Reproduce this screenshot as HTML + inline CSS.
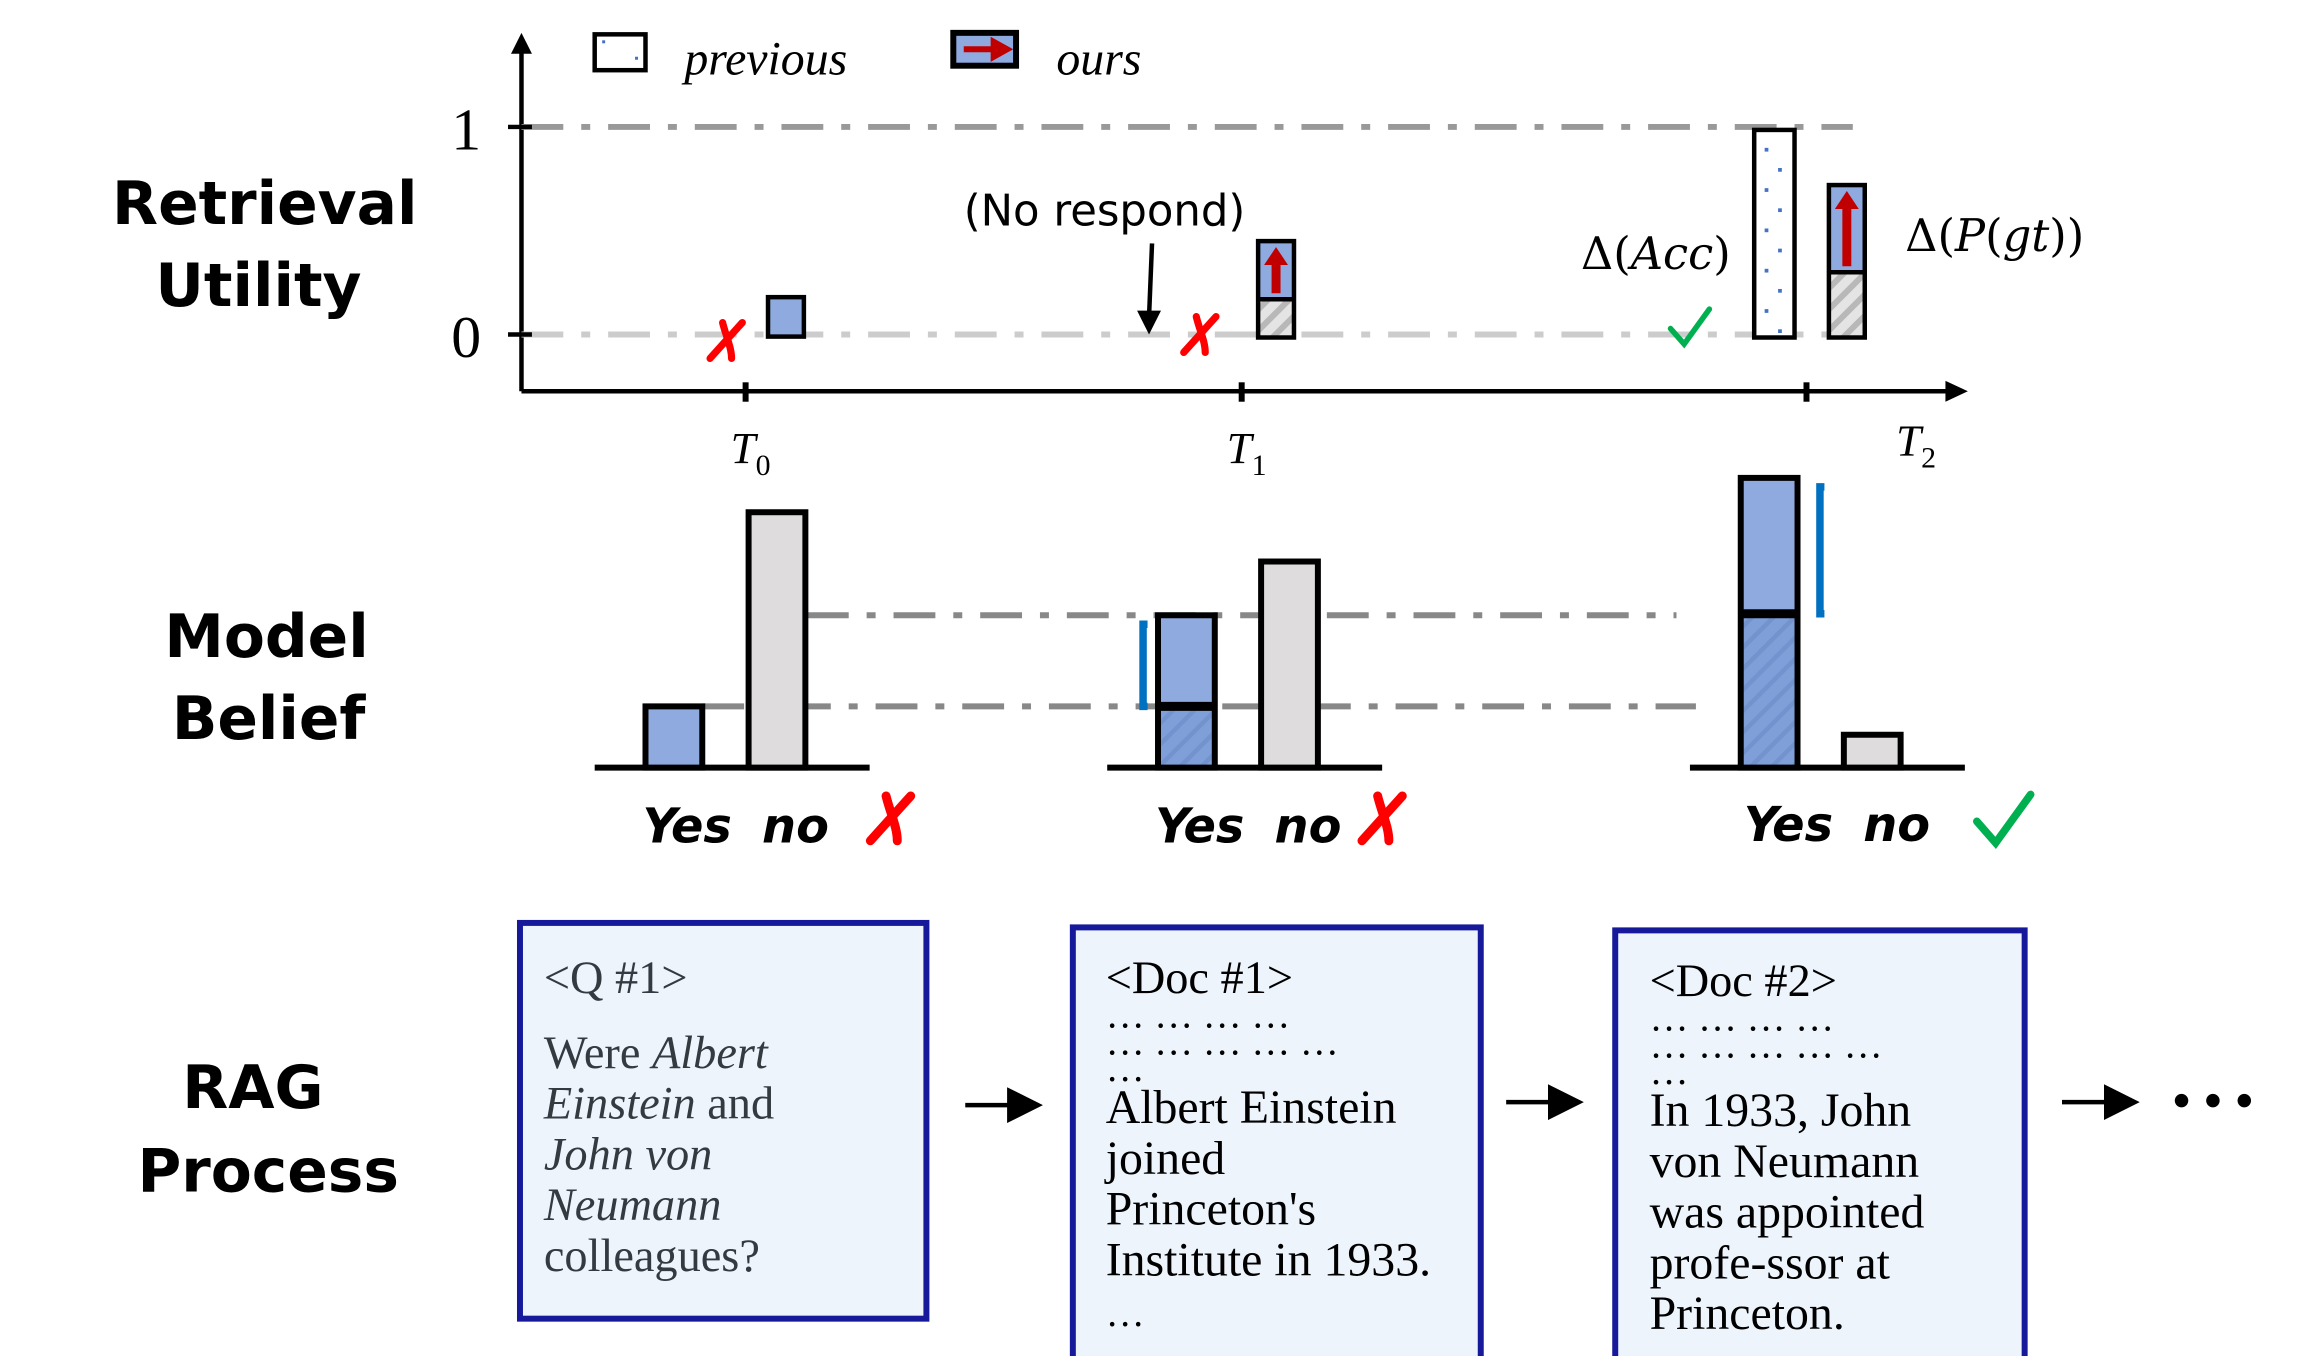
<!DOCTYPE html>
<html><head><meta charset="utf-8"><style>
html,body{margin:0;padding:0;background:#fff;}
svg{display:block;}
.hand{font-family:"DejaVu Sans",sans-serif;font-weight:bold;fill:#000;}
.ser{font-family:"Liberation Serif",serif;}
</style></head><body>
<svg id="fig" width="2319" height="1356" viewBox="0 0 1552 908" preserveAspectRatio="none" xmlns="http://www.w3.org/2000/svg">
<defs>
<pattern id="hatch" width="10" height="10" patternUnits="userSpaceOnUse" patternTransform="rotate(45)">
<rect width="10" height="10" fill="#e4e4e4"/><rect width="4" height="10" fill="#b8b8b8"/></pattern>
<pattern id="bhatch" width="10" height="10" patternUnits="userSpaceOnUse" patternTransform="rotate(45)">
<rect width="10" height="10" fill="#7f9fd8"/><rect width="3" height="10" fill="#7393cf"/></pattern>
<marker id="ah" markerWidth="8" markerHeight="8" refX="4" refY="4" orient="auto"><path d="M0,0 L8,4 L0,8 z" fill="#000"/></marker>
</defs>

<text class="hand" x="75" y="150" font-size="40">Retrieval</text>
<text class="hand" x="104" y="205" font-size="40">Utility</text>
<text class="hand" x="110" y="440" font-size="40">Model</text>
<text class="hand" x="115" y="495" font-size="40">Belief</text>
<text class="hand" x="122" y="742" font-size="40">RAG</text>
<text class="hand" x="92" y="798" font-size="40">Process</text>

<g>
<rect x="398" y="23" width="34" height="24" fill="#fff" stroke="#000" stroke-width="3"/>
<rect x="403" y="27" width="2" height="2" fill="#4472c4"/><rect x="425" y="38" width="2" height="2" fill="#4472c4"/>
<text class="ser" x="458" y="50" font-size="32" font-style="italic">previous</text>
<rect x="638" y="22" width="42" height="22" fill="#8eaadf" stroke="#000" stroke-width="4"/>
<path d="M645,33 h20 v-5 l9,5 l-9,5 v-5" fill="#c00000" stroke="#c00000" stroke-width="4"/>
<text class="ser" x="707" y="50" font-size="32" font-style="italic">ours</text>
</g>

<g id="topChart"></g>
<g id="midChart"></g>

<g>
<rect x="348" y="618" width="272" height="265" fill="#edf4fb" stroke="#15199a" stroke-width="4"/>
<text class="ser" font-size="31" fill="#333a40" x="364" y="665">&lt;Q #1&gt;</text>
<text class="ser" font-size="31" fill="#333a40" x="364" y="715">Were <tspan font-style="italic">Albert</tspan></text>
<text class="ser" font-size="31" fill="#333a40" x="364" y="749"><tspan font-style="italic">Einstein</tspan> and</text>
<text class="ser" font-size="31" fill="#333a40" x="364" y="783" font-style="italic">John von</text>
<text class="ser" font-size="31" fill="#333a40" x="364" y="817" font-style="italic">Neumann</text>
<text class="ser" font-size="31" fill="#333a40" x="364" y="851">colleagues?</text>
</g>
<g>
<rect x="718" y="621" width="273" height="289" fill="#edf4fb" stroke="#15199a" stroke-width="4"/>
<text class="ser" font-size="31" x="740" y="665">&lt;Doc #1&gt;</text>
<text class="ser" font-size="26" x="740" y="688">… … … …</text>
<text class="ser" font-size="26" x="740" y="706">… … … … …</text>
<text class="ser" font-size="26" x="740" y="724">…</text>
<text class="ser" font-size="32" x="740" y="752">Albert Einstein</text>
<text class="ser" font-size="32" x="740" y="786">joined</text>
<text class="ser" font-size="32" x="740" y="820">Princeton's</text>
<text class="ser" font-size="32" x="740" y="854">Institute in 1933.</text>
<text class="ser" font-size="26" x="740" y="888">…</text>
</g>
<g>
<rect x="1081" y="623" width="274" height="289" fill="#edf4fb" stroke="#15199a" stroke-width="4"/>
<text class="ser" font-size="31" x="1104" y="667">&lt;Doc #2&gt;</text>
<text class="ser" font-size="26" x="1104" y="690">… … … …</text>
<text class="ser" font-size="26" x="1104" y="708">… … … … …</text>
<text class="ser" font-size="26" x="1104" y="726">…</text>
<text class="ser" font-size="32" x="1104" y="754">In 1933, John</text>
<text class="ser" font-size="32" x="1104" y="788">von Neumann</text>
<text class="ser" font-size="32" x="1104" y="822">was appointed</text>
<text class="ser" font-size="32" x="1104" y="856">profe-ssor at</text>
<text class="ser" font-size="32" x="1104" y="890">Princeton.</text>
</g>
<g stroke="#000" stroke-width="3">
<line x1="646" y1="740" x2="686" y2="740" marker-end="url(#ah)"/>
<line x1="1008" y1="738" x2="1048" y2="738" marker-end="url(#ah)"/>
<line x1="1380" y1="738" x2="1420" y2="738" marker-end="url(#ah)"/>
</g>
<g fill="#000">
<circle cx="1460" cy="737" r="4.5"/><circle cx="1481" cy="737" r="4.5"/><circle cx="1502" cy="737" r="4.5"/>
</g>
</svg>
<script>
const NS="http://www.w3.org/2000/svg";
// Retrieval utility data (0..1)
const stepLabels=["T0","T1","T2"];
const oursLow=[0,0.17,0.3];
const oursHigh=[0.18,0.45,0.72];
const previousVal=[null,null,1.0];
// Model belief data
const beliefYes=[0.205,0.51,0.97];
const beliefYesPrev=[null,0.205,0.515];
const beliefNo=[0.855,0.69,0.11];
const outcomes=["x","x","check"];

function mk(tag,attrs,parent){const el=document.createElementNS(NS,tag);for(const k in attrs)el.setAttribute(k,attrs[k]);parent.appendChild(el);return el;}
const topG=document.getElementById('topChart'), midG=document.getElementById('midChart');
const yU=v=>224-v*139;
const tickX=[499,831,1209];
const barX=[514,842,1224];
let el;
el=mk('line',{x1:349,y1:262,x2:349,y2:32,stroke:'#000','stroke-width':3},topG);


mk('path',{d:'M342,36 L349,22 L356,36 z'},topG);
el=mk('line',{x1:349,y1:262,x2:1305,y2:262,stroke:'#000','stroke-width':3},topG);


mk('path',{d:'M1302,255 L1317,262 L1302,269 z'},topG);
[[1,'#999'],[0,'#ccc']].forEach(([v,c])=>{
 mk('line',{x1:349,y1:yU(v),x2:1240,y2:yU(v),stroke:c,'stroke-width':4,'stroke-dasharray':'28,12,6,12'},topG);
 mk('line',{x1:340,y1:yU(v),x2:356,y2:yU(v),stroke:'#000','stroke-width':3},topG);
 el=mk('text',{x:312,y:yU(v)+15,'font-size':40,'font-family':'Liberation Serif, serif','text-anchor':'middle'},topG);
 el.textContent=String(v);
 
 
});
stepLabels.forEach((s,i)=>{
 mk('line',{x1:tickX[i],y1:256,x2:tickX[i],y2:269,stroke:'#000','stroke-width':4},topG);
 el=mk('text',{x:tickX[i]-10+(i==2?70:0),y:i==2?305:310,'font-size':30,'font-style':'italic','font-family':'Liberation Serif, serif'},topG);
 el.innerHTML=s[0]+'<tspan font-size="20" dy="8" font-style="normal">'+s[1]+'</tspan>';
 
 
 const x=barX[i],w=24;
 const lowY=yU(oursLow[i]);
 const bot=i==0?yU(-0.01):yU(0)+2;
 if(oursLow[i]>0){
  mk('rect',{x:x,y:lowY,width:w,height:bot-lowY,fill:'url(#hatch)'},topG);
 }
 el=mk('rect',{x:x,y:yU(oursHigh[i]),width:w,height:(oursLow[i]>0?lowY:bot)-yU(oursHigh[i]),fill:'#8eaadf'},topG);
 
 
 mk('rect',{x:x,y:yU(oursHigh[i]),width:w,height:bot-yU(oursHigh[i]),fill:'none',stroke:'#000','stroke-width':3},topG);
 if(oursLow[i]>0){
  mk('line',{x1:x,y1:lowY,x2:x+w,y2:lowY,stroke:'#000','stroke-width':3},topG);
  const t=yU(oursHigh[i]);
  const ah=Math.min(12,(lowY-t)/3);
  mk('path',{d:`M${x+12},${t+4} L${x+20},${t+4+ah} L${x+15},${t+4+ah} L${x+15},${lowY-4} L${x+9},${lowY-4} L${x+9},${t+4+ah} L${x+4},${t+4+ah} z`,fill:'#c00000'},topG);
 }
 if(previousVal[i]!=null){
  const px=1174;
  el=mk('rect',{x:px,y:yU(previousVal[i])+2,width:27,height:yU(0)-yU(previousVal[i]),fill:'#fff',stroke:'#000','stroke-width':3},topG);
  
  
  for(let k=0;k<10;k++)mk('rect',{x:px+(k%2?16:7),y:yU(previousVal[i])+14+k*13.5,width:2.5,height:2.5,fill:'#4472c4'},topG);
 }
});
function xmark(cx,cy,s,parent){const g=mk('g',{stroke:'#f00','stroke-width':s/5,'stroke-linecap':'round',fill:'none'},parent);
 mk('path',{d:`M${cx-s*0.1},${cy-s/2} C${cx},${cy-s*0.1} ${cx+s*0.15},${cy+s*0.2} ${cx+s*0.15},${cy+s/2}`},g);
 mk('path',{d:`M${cx+s*0.45},${cy-s/2} L${cx-s*0.45},${cy+s/2}`},g);return g;}
function check(cx,cy,s,parent){return mk('path',{d:`M${cx-s/2},${cy} L${cx-s*0.15},${cy+s*0.4} L${cx+s/2},${cy-s/2}`,stroke:'#00b050','stroke-width':s/7,fill:'none','stroke-linecap':'round'},parent);}
el=xmark(486,228,24,topG);


el=xmark(803,224,24,topG);


el=check(1131,220,26,topG);


el=mk('text',{x:645,y:151,'font-size':29,'font-family':'DejaVu Sans, sans-serif'},topG);el.textContent='(No respond)';


mk('line',{x1:771,y1:163,x2:769,y2:212,stroke:'#000','stroke-width':3},topG);
mk('path',{d:'M761,208 L769,224 L777,208 z'},topG);
el=mk('text',{x:1058,y:180,'font-size':30,'font-family':'DejaVu Serif, serif'},topG);el.innerHTML='Δ(<tspan font-style="italic">Acc</tspan>)';


el=mk('text',{x:1275,y:168,'font-size':30,'font-family':'DejaVu Serif, serif'},topG);el.innerHTML='Δ(<tspan font-style="italic">P</tspan>(<tspan font-style="italic">gt</tspan>))';



const base=514, k=200;
const yB=v=>base-v*k;
const groupX=[398,741,1131];
mk('line',{x1:540,y1:yB(beliefYes[1]),x2:1122,y2:yB(beliefYes[1]),stroke:'#888','stroke-width':4,'stroke-dasharray':'28,12,6,12'},midG);
mk('line',{x1:470,y1:yB(beliefYes[0]),x2:1135,y2:yB(beliefYes[0]),stroke:'#888','stroke-width':4,'stroke-dasharray':'28,12,6,12'},midG);
groupX.forEach((gx,i)=>{
 el=mk('line',{x1:gx,y1:base,x2:gx+184,y2:base,stroke:'#000','stroke-width':4},midG);
 
 
 const yx=gx+34, nx=gx+103, w=38;
 if(beliefYesPrev[i]!=null){
  mk('rect',{x:yx,y:yB(beliefYesPrev[i]),width:w,height:base-yB(beliefYesPrev[i]),fill:'url(#bhatch)'},midG);
  mk('rect',{x:yx,y:yB(beliefYes[i]),width:w,height:yB(beliefYesPrev[i])-yB(beliefYes[i]),fill:'#8eaadf'},midG);
  mk('line',{x1:yx,y1:yB(beliefYesPrev[i]),x2:yx+w,y2:yB(beliefYesPrev[i]),stroke:'#000','stroke-width':6},midG);
  const bx=i==1?yx-10:yx+w+15;
  el=mk('path',{d:`M${bx+3},${yB(beliefYes[i])+6} L${bx},${yB(beliefYes[i])+6} L${bx},${yB(beliefYesPrev[i])} L${bx+3},${yB(beliefYesPrev[i])}`,stroke:'#0070c0','stroke-width':5,fill:'none'},midG);
  
  
 }else{
  mk('rect',{x:yx,y:yB(beliefYes[i]),width:w,height:base-yB(beliefYes[i]),fill:'#8eaadf'},midG);
 }
 el=mk('rect',{x:yx,y:yB(beliefYes[i]),width:w,height:base-yB(beliefYes[i]),fill:'none',stroke:'#000','stroke-width':4},midG);
 
 
 el=mk('rect',{x:nx,y:yB(beliefNo[i]),width:w,height:base-yB(beliefNo[i]),fill:'#dedcdd',stroke:'#000','stroke-width':4},midG);
 
 
 const lx=gx+(i==2?36:32);
 el=mk('text',{x:lx,y:i==2?563:564,'font-size':32,'font-style':'italic',class:'hand'},midG);el.textContent='Yes';
 
 
 el=mk('text',{x:lx+80,y:i==2?563:564,'font-size':32,'font-style':'italic',class:'hand'},midG);el.textContent='no';
 
 
 if(outcomes[i]=='x'){el=xmark(gx+(i==0?198:184),548,30,midG);}else{el=check(gx+210,550,36,midG);}
 
 
});
</script>
</body></html>
